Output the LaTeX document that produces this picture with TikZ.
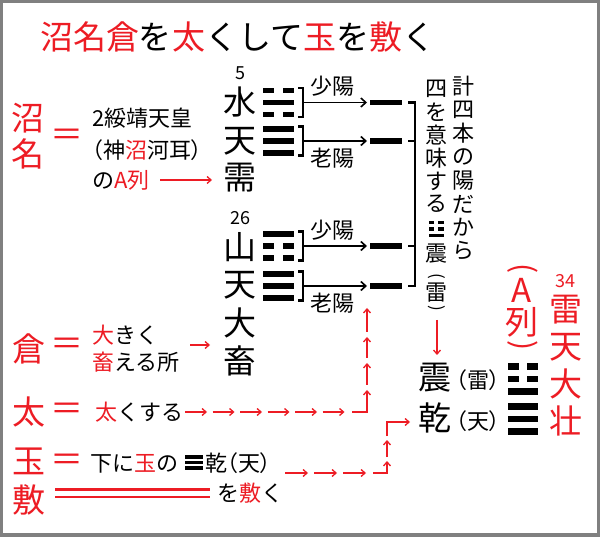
\documentclass[tikz,border=0pt]{standalone}
\usepackage{fontspec}
\setmainfont{Noto Sans CJK JP}
\newfontfamily\jpp[RawFeature=+palt]{Noto Sans CJK JP}
\usetikzlibrary{arrows.meta}
\definecolor{rd}{RGB}{237,28,36}
\definecolor{frm}{RGB}{128,128,128}
\tikzset{
  txtbase/.style={inner sep=0pt, outer sep=0pt},
  bigtxt/.style={txtbase, font=\fontsize{33}{33}\selectfont},
  midtxt/.style={txtbase, font=\fontsize{22}{22}\selectfont},
  midp/.style={txtbase, font=\jpp\fontsize{22}{22}\selectfont},
  numtxt/.style={txtbase, font=\fontsize{18}{18}\selectfont},
  vtxt/.style={txtbase, font=\fontsize{22}{22}\selectfont},
  vparen/.style={txtbase, rotate=-90},
  redarr/.style={draw=rd, line width=1.3pt, -{Straight Barb[length=4pt,width=7pt]}},
  blkarr/.style={draw=black, line width=1.6pt, -{Straight Barb[length=5pt,width=9pt]}, shorten >=3pt},
  brk/.style={draw=black, line width=2.2pt},
  barnode/.style={rectangle, fill=black, minimum width=32pt, minimum height=5.5pt, inner sep=0pt, outer sep=0pt},
}
\newcommand\drawTrigram[6]{%
  \foreach \b [count=\k] in {#6} {%
    \pgfmathsetmacro\yy{#2+(\k-2)*#4}%
    \pgfmathsetmacro\ya{\yy-#5/2}%
    \pgfmathsetmacro\yb{\yy+#5/2}%
    \pgfmathsetmacro\xa{#1-#3/2}%
    \pgfmathsetmacro\xb{#1+#3/2}%
    \pgfmathsetmacro\xc{#1-0.14*#3}%
    \pgfmathsetmacro\xd{#1+0.14*#3}%
    \ifnum\b=1
      \fill[black] (\xa,\ya) rectangle (\xb,\yb);
    \else
      \fill[black] (\xa,\ya) rectangle (\xc,\yb);
      \fill[black] (\xd,\ya) rectangle (\xb,\yb);
    \fi
  }%
}
\begin{document}
\begin{tikzpicture}[x=1pt,y=-1pt]
\fill[frm] (0,0) rectangle (600,537);
\fill[white] (3,3) rectangle (596.5,533);
\useasboundingbox (0,0) rectangle (600,537);

% title
\node[bigtxt, anchor=west] (title) at (40,37) {\textcolor{rd}{沼名倉}を\textcolor{rd}{太}くして\textcolor{rd}{玉}を\textcolor{rd}{敷}く};

% left big characters
\node[bigtxt, text=rd] (kSho) at (28,118) {沼};
\node[bigtxt, text=rd] (kNa) at (28,154) {名};
\node[bigtxt, text=rd] (eq1) at (67,138) {＝};
\node[bigtxt, text=rd] (kKura) at (29,349) {倉};
\node[bigtxt, text=rd] (eq2) at (67,347) {＝};
\node[bigtxt, text=rd] (kTai) at (29,412) {太};
\node[bigtxt, text=rd] (eq3) at (67,412) {＝};
\node[bigtxt, text=rd] (kGyoku) at (29,461) {玉};
\node[bigtxt, text=rd] (eq4) at (67,463) {＝};
\node[bigtxt, text=rd] (kShiku) at (29,500) {敷};

% left explanations
\node[midtxt, anchor=west] (l1) at (92,118) {2綏靖天皇};
\node[midp, anchor=west] (l2) at (92,150) {（神\textcolor{rd}{沼}河耳）};
\node[midtxt, anchor=west] (l3) at (92,180) {の\textcolor{rd}{A列}};
\node[midtxt, anchor=west] (l4) at (92,335) {\textcolor{rd}{大}きく};
\node[midtxt, anchor=west] (l5) at (92,362) {\textcolor{rd}{畜}える所};
\node[midtxt, anchor=west] (l6) at (95,412) {\textcolor{rd}{太}くする};
\node[midtxt, anchor=west] (l7) at (90,463.5) {下に\textcolor{rd}{玉}の};
\node[midp, anchor=west] (l8) at (205,463.5) {乾（天）};
\node[midtxt, anchor=west] (l9) at (217,493) {を\textcolor{rd}{敷}く};
\drawTrigram{194}{462.5}{18}{5.7}{3.6}{1,1,1}

% double line
\draw[rd, line width=2.5pt] (55,489.5) -- (210,489.5);
\draw[rd, line width=2.5pt] (55,497) -- (210,497);

% hexagram names
\node[numtxt] (n5) at (240,73.5) {5};
\node[bigtxt] (hSui) at (240,102.5) {水};
\node[bigtxt] (hTen1) at (240,141) {天};
\node[bigtxt] (hJu) at (240,178) {需};
\node[numtxt] (n26) at (240,218.5) {26};
\node[bigtxt] (hSan) at (240,247) {山};
\node[bigtxt] (hTen2) at (240,285) {天};
\node[bigtxt] (hDai) at (240,323) {大};
\node[bigtxt] (hChiku) at (240,361) {畜};

% trigrams of the hexagrams
\drawTrigram{278.5}{102.5}{31}{12}{5.5}{0,1,0}
\drawTrigram{278.5}{141}{31}{12}{5.5}{1,1,1}
\drawTrigram{278.5}{246}{31}{12}{5.5}{1,0,0}
\drawTrigram{278.5}{286}{31}{12}{5.5}{1,1,1}

% brackets, arrows and yang bars
\foreach \yv/\n in {102.5/1, 141/2, 246/3, 286/4} {
  \draw[brk] (298,{\yv-14.5}) -- (303,{\yv-14.5}) -- (303,{\yv+14.5}) -- (298,{\yv+14.5});
  \coordinate (bk\n) at (303,\yv);
  \node[barnode] (bar\n) at (386,\yv) {};
  \draw[blkarr] (bk\n) -- (bar\n.west);
}
\node[midtxt] (lbA) at (332,86) {少陽};
\node[midtxt] (lbB) at (332,158) {老陽};
\node[midtxt] (lbC) at (332,230) {少陽};
\node[midtxt] (lbD) at (332,303) {老陽};

% big bracket
\draw[brk, line width=2.5pt] (408,102.5) -- (415,102.5) -- (415,286) -- (408,286);
\draw[brk, line width=2.5pt] (408,141) -- (415,141);
\draw[brk, line width=2.5pt] (408,246) -- (415,246);

% vertical text columns
\foreach \c [count=\i] in {計,四,本,の,陽,だ,か,ら}
  \node[vtxt] (vr\i) at (463,{86.5+23.5*(\i-1)}) {\c};
\foreach \c [count=\i] in {四,を,意,味,す,る}
  \node[vtxt] (vl\i) at (436,{89+23*(\i-1)}) {\c};
\drawTrigram{436}{229}{15}{6.3}{3.4}{0,0,1}
\node[vtxt] (vl7) at (436,254) {震};
\node[vparen, font=\fontsize{17}{17}\selectfont] (vl8) at (437,276) {(};
\node[vtxt] (vl9) at (436,292.5) {雷};
\node[vparen, font=\fontsize{17}{17}\selectfont] (vl10) at (437,308) {)};

% down arrow
\coordinate (dA) at (437,320);
\coordinate (dB) at (437,355);
\draw[redarr] (dA) -- (dB);

% result
\node[bigtxt] (rShin) at (435,378) {震};
\node[midp, anchor=west] (rRai) at (456,380) {（雷）};
\node[bigtxt] (rKen) at (435,417.5) {乾};
\node[midp, anchor=west] (rTen) at (456,421) {（天）};
\drawTrigram{523}{379}{30}{12.5}{6.5}{0,0,1}
\drawTrigram{523}{419}{30}{12.5}{6.5}{1,1,1}

% (A列) vertical red
\node[vparen, text=rd, font=\fontsize{30}{30}\selectfont] (aP1) at (523,269) {(};
\node[bigtxt, text=rd] (aA) at (522,290.5) {A};
\node[bigtxt, text=rd] (aRetsu) at (522,322.5) {列};
\node[vparen, text=rd, font=\fontsize{30}{30}\selectfont] (aP2) at (523,346) {)};

% 34 雷天大壮
\node[numtxt, text=rd] (n34) at (565,281.5) {34};
\node[bigtxt, text=rd] (z1) at (566,310) {雷};
\node[bigtxt, text=rd] (z2) at (566,347) {天};
\node[bigtxt, text=rd] (z3) at (566,384) {大};
\node[bigtxt, text=rd] (z4) at (566,421) {壮};

% red arrows
\draw[redarr] (160,180) -- (212,180);
\draw[redarr] (190,345) -- (210,345);
\foreach \k in {0,...,5}
  \draw[redarr] ({185+27.5*\k},412) -- ({207+27.5*\k},412);
\draw[redarr] (352,412) -- (367,412) -- (367,390);
\foreach \a/\b in {385/363, 358/337, 332/308}
  \draw[redarr] (367,\a) -- (367,\b);
\foreach \k in {0,1,2}
  \draw[redarr] ({285+29*\k},473) -- ({308+29*\k},473);
\draw[redarr] (373,473) -- (387,473) -- (387,461);
\draw[redarr] (387,457) -- (387,440);
\draw[redarr] (387,436) -- (387,422) -- (410,422);
\end{tikzpicture}
\end{document}
